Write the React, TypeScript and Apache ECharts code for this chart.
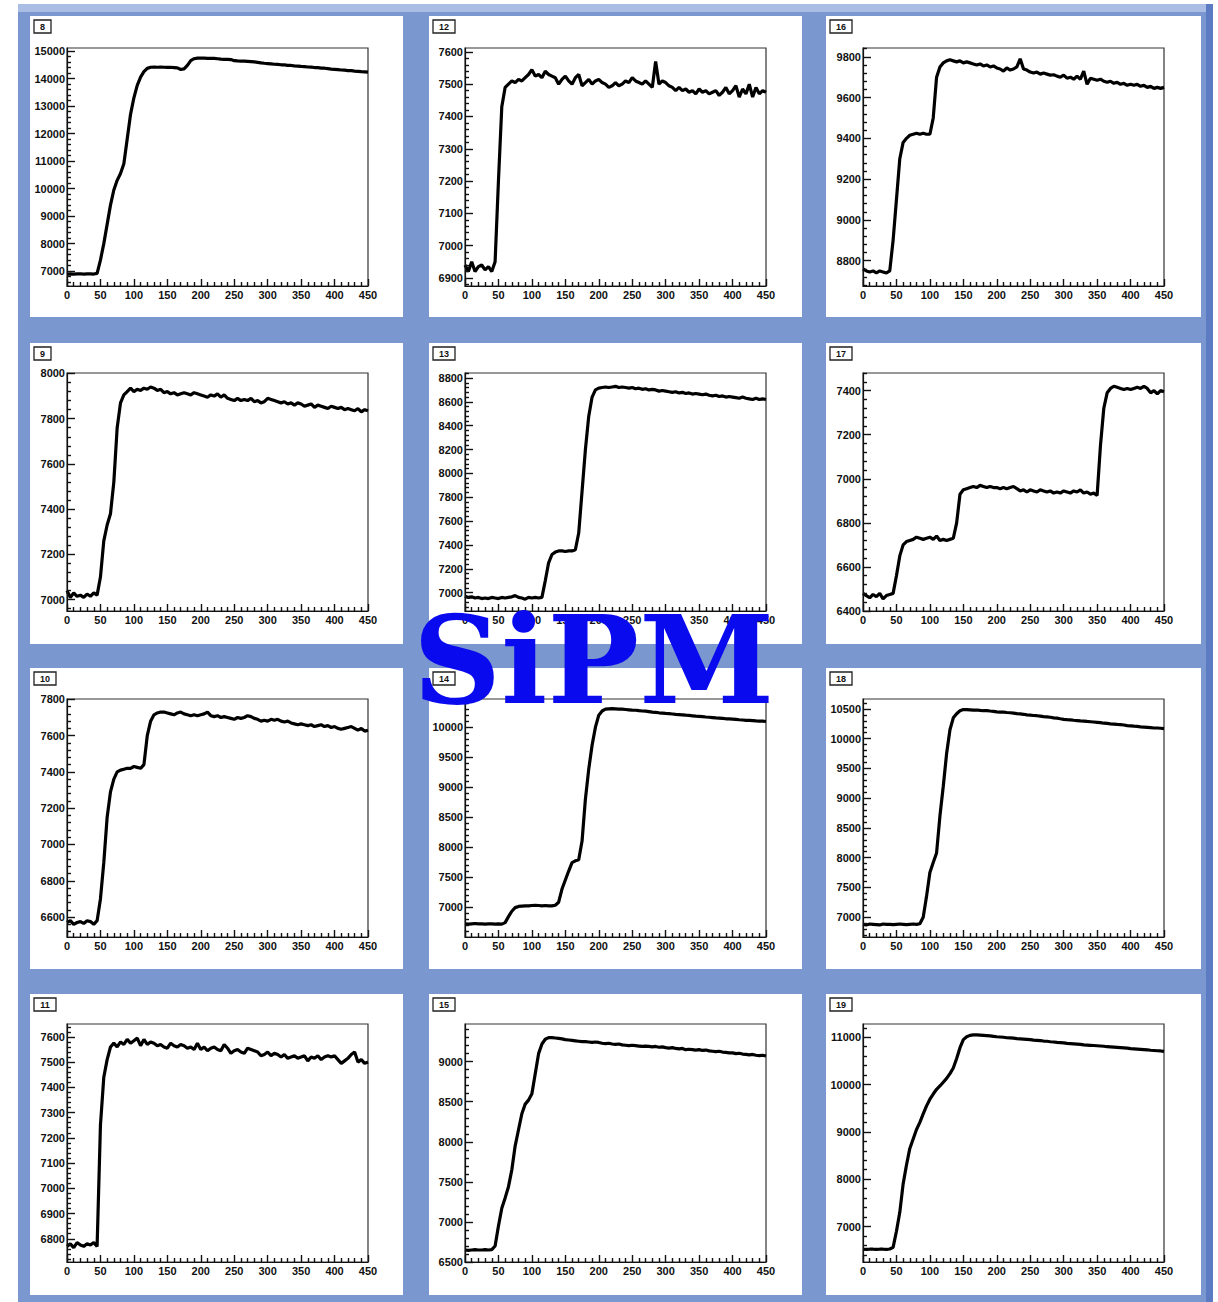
import React, { useEffect, useRef } from "react";
import * as echarts from "echarts";

// ---------- data ----------
// sampling positions (histogram bins read every 5 units)
const X: number[] = Array.from({ length: 91 }, (_, i) => i * 5);
const X_TICKS = [0, 50, 100, 150, 200, 250, 300, 350, 400, 450];

const y8 = [
  6890, 6900, 6895, 6900, 6905, 6895, 6900, 6900, 6895, 6920,
  7400, 8000, 8700, 9400, 9950, 10300, 10550, 10900, 11800, 12700,
  13300, 13750, 14050, 14250, 14370, 14410, 14420, 14410, 14415, 14410,
  14405, 14410, 14400, 14390, 14330, 14350, 14480, 14650, 14720, 14740,
  14745, 14740, 14735, 14730, 14735, 14720, 14705, 14700, 14700, 14690,
  14650, 14640, 14635, 14630, 14625, 14615, 14605, 14590, 14570, 14555,
  14545, 14535, 14520, 14515, 14500, 14495, 14480, 14475, 14460, 14450,
  14440, 14435, 14420, 14415, 14400, 14395, 14380, 14375, 14360, 14345,
  14335, 14325, 14310, 14305, 14290, 14285, 14270, 14260, 14250, 14245,
  14230,
];
const y12 = [
  6940, 6920, 6950, 6920, 6935, 6940, 6925, 6935, 6920, 6950,
  7200, 7430, 7490, 7500, 7510, 7505, 7515, 7510, 7520, 7530,
  7545, 7525, 7530, 7520, 7540, 7530, 7525, 7520, 7500, 7515,
  7525, 7510, 7500, 7520, 7530, 7495, 7505, 7515, 7500, 7510,
  7515, 7505, 7500, 7490, 7495, 7505, 7495, 7500, 7510, 7505,
  7520, 7510, 7505, 7500, 7510, 7500, 7490, 7570, 7500, 7510,
  7505, 7495, 7490, 7480, 7490, 7480, 7485, 7475, 7480, 7470,
  7485, 7475, 7480, 7470, 7475, 7480, 7465, 7475, 7490, 7470,
  7480, 7495, 7460, 7485, 7470, 7500, 7460, 7490, 7470, 7480,
  7475,
];
const y16 = [
  8760, 8750, 8745, 8750, 8740, 8750, 8745, 8740, 8750, 8900,
  9100, 9300, 9380, 9400, 9415, 9420, 9425, 9420, 9425, 9420,
  9420, 9500, 9700, 9750, 9770, 9780, 9785, 9780, 9775, 9780,
  9770, 9775, 9770, 9765, 9760, 9765, 9755, 9760, 9750, 9755,
  9745, 9740, 9730, 9745, 9735, 9740, 9750, 9790, 9740, 9735,
  9725, 9720, 9725, 9715, 9720, 9715, 9710, 9712, 9705, 9700,
  9710, 9695, 9700, 9690, 9705, 9690, 9730, 9665, 9695, 9690,
  9685, 9690, 9680, 9675, 9680, 9670, 9675, 9665, 9670, 9660,
  9665, 9660, 9665, 9655, 9660, 9650, 9655, 9645, 9650, 9645,
  9650,
];
const y9 = [
  7040, 7010, 7030, 7015, 7020, 7010, 7025, 7015, 7030, 7020,
  7100, 7260, 7330, 7380, 7520, 7760, 7870, 7905, 7920, 7935,
  7920, 7930, 7925, 7935, 7930, 7940, 7935, 7925, 7930, 7915,
  7920, 7910, 7915, 7905, 7910, 7915, 7910, 7905, 7915, 7910,
  7905, 7900, 7895, 7905, 7900, 7910, 7895, 7905, 7890, 7885,
  7880, 7890, 7880, 7885, 7880, 7890, 7875, 7880, 7870, 7875,
  7890, 7885, 7880, 7875, 7870, 7875, 7865, 7870, 7860, 7870,
  7865, 7855, 7860, 7865, 7850, 7860, 7855, 7850, 7845, 7855,
  7850, 7845, 7850, 7840, 7845, 7840, 7835, 7845, 7830, 7840,
  7835,
];
const y13 = [
  6970, 6960, 6965, 6955, 6960, 6950, 6955, 6950, 6960, 6955,
  6950, 6960, 6955, 6960, 6965, 6975, 6960, 6955, 6945, 6960,
  6955, 6960, 6955, 6960, 7100, 7250, 7320, 7340, 7350, 7350,
  7345, 7350, 7350, 7360, 7500, 7850, 8200, 8480, 8640, 8700,
  8715, 8720, 8725, 8720, 8725, 8730, 8720, 8725, 8720, 8715,
  8720, 8710, 8715, 8705, 8710, 8700, 8705, 8700, 8690, 8695,
  8690, 8685, 8680, 8685, 8675, 8680, 8670, 8675, 8665, 8670,
  8665, 8660, 8665, 8655, 8650, 8655, 8645, 8650, 8640, 8645,
  8640, 8635, 8630, 8640, 8630, 8625, 8620, 8630, 8620, 8625,
  8620,
];
const y17 = [
  6480, 6470, 6460, 6475, 6465, 6480, 6455, 6470, 6475, 6480,
  6560, 6650, 6700, 6715, 6720, 6725, 6735, 6730, 6725, 6730,
  6735, 6725, 6740, 6720, 6725, 6720, 6725, 6730, 6800, 6930,
  6950, 6955, 6960, 6965, 6960, 6970, 6965, 6960, 6965, 6960,
  6960, 6955, 6960, 6955, 6960, 6965, 6955, 6945, 6950, 6940,
  6950, 6945, 6940, 6950, 6945, 6940, 6945, 6935, 6940, 6935,
  6945, 6940, 6935, 6945, 6940, 6950, 6935, 6940, 6930, 6935,
  6925, 7150, 7320, 7390, 7410, 7420, 7415, 7410, 7405, 7410,
  7405, 7410, 7415, 7410, 7420, 7410, 7390, 7400, 7385, 7400,
  7395,
];
const y10 = [
  6570, 6580, 6560, 6570, 6575, 6565, 6580, 6575, 6560, 6580,
  6700, 6900, 7150, 7290, 7360, 7400, 7410, 7415, 7420, 7420,
  7430, 7425, 7420, 7440, 7600, 7680, 7715, 7725, 7730, 7730,
  7725, 7720, 7715, 7725, 7730, 7720, 7715, 7710, 7715, 7710,
  7715, 7720, 7730, 7710, 7705, 7710, 7700, 7705, 7700, 7695,
  7690, 7700, 7695, 7700, 7710, 7705, 7695, 7690, 7680, 7685,
  7680, 7690, 7685, 7690, 7680, 7675, 7680, 7670, 7665, 7660,
  7665, 7660, 7655, 7660, 7650, 7655, 7660, 7650, 7655, 7645,
  7650, 7640, 7635, 7640, 7645, 7650, 7640, 7630, 7640, 7625,
  7630,
];
const y14 = [
  6720, 6715, 6720, 6725, 6720, 6720, 6715, 6720, 6720, 6715,
  6720, 6715, 6740, 6840, 6930, 6990, 7010, 7015, 7020, 7020,
  7025, 7030, 7025, 7020, 7025, 7020, 7020, 7030, 7080, 7300,
  7450, 7600, 7740, 7770, 7790, 8100, 8800, 9300, 9700, 10000,
  10200, 10270, 10300, 10305, 10310, 10305, 10300, 10300, 10295, 10290,
  10285, 10282, 10275, 10270, 10268, 10260, 10250, 10248, 10240, 10235,
  10230, 10226, 10220, 10214, 10210, 10205, 10200, 10196, 10190, 10184,
  10180, 10176, 10170, 10166, 10160, 10154, 10150, 10146, 10140, 10138,
  10135, 10130, 10124, 10120, 10115, 10114, 10110, 10104, 10100, 10100,
  10095,
];
const y18 = [
  6880, 6870, 6885, 6880, 6875, 6870, 6885, 6880, 6880, 6875,
  6880, 6885, 6880, 6875, 6880, 6885, 6880, 6890, 7000, 7350,
  7750, 7920, 8080, 8700, 9200, 9750, 10150, 10350, 10420, 10470,
  10490, 10490, 10485, 10480, 10482, 10475, 10470, 10472, 10465, 10460,
  10450, 10447, 10445, 10440, 10436, 10430, 10420, 10416, 10410, 10400,
  10395, 10390, 10386, 10380, 10370, 10366, 10360, 10350, 10346, 10335,
  10325, 10320, 10316, 10310, 10305, 10300, 10296, 10290, 10285, 10280,
  10275, 10270, 10260, 10256, 10250, 10245, 10240, 10236, 10230, 10220,
  10215, 10210, 10206, 10200, 10195, 10190, 10185, 10180, 10180, 10175,
  10170,
];
const y11 = [
  6770, 6780, 6765, 6785, 6775, 6770, 6780, 6775, 6785, 6770,
  7250, 7440, 7510, 7560, 7575, 7560, 7580, 7570, 7590, 7575,
  7585, 7595, 7565, 7590, 7570, 7580, 7575, 7565, 7570, 7560,
  7555, 7575, 7565, 7560, 7570, 7565, 7555, 7560, 7550, 7575,
  7550, 7560, 7545, 7555, 7560, 7550, 7545, 7570, 7555, 7535,
  7545, 7550, 7540, 7535, 7555, 7550, 7545, 7540, 7525, 7530,
  7540, 7525, 7535, 7530, 7520, 7530, 7515, 7520, 7525, 7515,
  7520, 7525, 7505, 7520, 7515, 7525, 7510, 7520, 7525, 7520,
  7525, 7510, 7495, 7505, 7515, 7530, 7540, 7500, 7510, 7495,
  7500,
];
const y15 = [
  6650, 6645, 6650, 6655, 6650, 6650, 6655, 6650, 6655, 6700,
  6950, 7170, 7300, 7440, 7650, 7950, 8150, 8350, 8470, 8520,
  8600, 8850, 9100, 9220, 9280, 9300, 9300, 9295, 9290, 9285,
  9275, 9270, 9265, 9260, 9255, 9250, 9250, 9245, 9240, 9245,
  9240, 9230, 9225, 9230, 9220, 9215, 9220, 9210, 9205, 9200,
  9205, 9200, 9195, 9190, 9195, 9190, 9185, 9190, 9180, 9185,
  9175, 9170, 9175, 9165, 9160, 9165, 9150, 9155, 9150, 9145,
  9150, 9140, 9145, 9135, 9130, 9125, 9130, 9120, 9115, 9110,
  9110, 9100, 9105, 9095, 9090, 9085, 9090, 9080, 9075, 9080,
  9070,
];
const y19 = [
  6520, 6515, 6520, 6520, 6515, 6520, 6520, 6515, 6525, 6560,
  6900, 7300, 7900, 8300, 8650, 8850, 9050, 9200, 9380, 9550,
  9690, 9800, 9900, 9970, 10050, 10130, 10230, 10350, 10550, 10780,
  10950, 11010, 11040, 11050, 11050, 11045, 11040, 11035, 11030, 11020,
  11010, 11005, 11000, 10990, 10985, 10980, 10970, 10965, 10960, 10955,
  10950, 10940, 10935, 10930, 10920, 10915, 10905, 10900, 10890, 10885,
  10880, 10870, 10865, 10860, 10855, 10850, 10840, 10835, 10830, 10825,
  10820, 10815, 10810, 10800, 10795, 10790, 10785, 10780, 10775, 10770,
  10760, 10755, 10750, 10745, 10740, 10735, 10725, 10720, 10715, 10710,
  10700,
];

// y-axis ranges and tick labels
const range8 = [6460, 15110];
const ticks8 = [7000, 8000, 9000, 10000, 11000, 12000, 13000, 14000, 15000];
const range12 = [6875, 7612];
const ticks12 = [6900, 7000, 7100, 7200, 7300, 7400, 7500, 7600];
const range16 = [8676, 9843];
const ticks16 = [8800, 9000, 9200, 9400, 9600, 9800];
const range9 = [6950, 8002];
const ticks9 = [7000, 7200, 7400, 7600, 7800, 8000];
const range13 = [6846, 8842];
const ticks13 = [7000, 7200, 7400, 7600, 7800, 8000, 8200, 8400, 8600, 8800];
const range17 = [6400, 7480];
const ticks17 = [6400, 6600, 6800, 7000, 7200, 7400];
const range10 = [6490, 7802];
const ticks10 = [6600, 6800, 7000, 7200, 7400, 7600, 7800];
const range14 = [6500, 10470];
const ticks14 = [7000, 7500, 8000, 8500, 9000, 9500, 10000];
const range18 = [6667, 10667];
const ticks18 = [7000, 7500, 8000, 8500, 9000, 9500, 10000, 10500];
const range11 = [6708, 7651];
const ticks11 = [6800, 6900, 7000, 7100, 7200, 7300, 7400, 7500, 7600];
const range15 = [6500, 9470];
const ticks15 = [6500, 7000, 7500, 8000, 8500, 9000];
const range19 = [6250, 11280];
const ticks19 = [7000, 8000, 9000, 10000, 11000];

type Panel = { id: string; col: number; row: number; y: number[]; range: number[]; ticks: number[] };
const panels: Panel[] = [
  { id: "8", col: 0, row: 0, y: y8, range: range8, ticks: ticks8 },
  { id: "9", col: 0, row: 1, y: y9, range: range9, ticks: ticks9 },
  { id: "10", col: 0, row: 2, y: y10, range: range10, ticks: ticks10 },
  { id: "11", col: 0, row: 3, y: y11, range: range11, ticks: ticks11 },
  { id: "12", col: 1, row: 0, y: y12, range: range12, ticks: ticks12 },
  { id: "13", col: 1, row: 1, y: y13, range: range13, ticks: ticks13 },
  { id: "14", col: 1, row: 2, y: y14, range: range14, ticks: ticks14 },
  { id: "15", col: 1, row: 3, y: y15, range: range15, ticks: ticks15 },
  { id: "16", col: 2, row: 0, y: y16, range: range16, ticks: ticks16 },
  { id: "17", col: 2, row: 1, y: y17, range: range17, ticks: ticks17 },
  { id: "18", col: 2, row: 2, y: y18, range: range18, ticks: ticks18 },
  { id: "19", col: 2, row: 3, y: y19, range: range19, ticks: ticks19 },
];

// ---------- layout ----------
const W = 1218;
const H = 1302;
const ROW_PANEL_TOP = [16, 343, 668, 994];
const PANEL_H = 301;
const COL_PANEL_LEFT = [30, 429, 826];
const PANEL_W = [373, 373, 375];
const ROW_PLOT_TOP = [48, 373, 699, 1024];
const PLOT_H = 238;
const COL_PLOT_LEFT = [67, 465, 863];
const PLOT_W = 301;
const BLUE = "#7b97cf";
const LABEL_FONT = "Liberation Sans";
const INK = "#111";

function minorValues(min: number, max: number, step: number, major: number) {
  const out: number[] = [];
  for (let v = Math.ceil(min / step) * step; v <= max + 1e-9; v += step) {
    if (Math.abs(v / major - Math.round(v / major)) > 1e-6) out.push(v);
  }
  return out;
}

function buildOption() {
  const grid: any[] = [];
  const xAxis: any[] = [];
  const yAxis: any[] = [];
  const series: any[] = [];
  const graphic: any[] = [];

  graphic.push({ type: "rect", z: -30, shape: { x: 18, y: 4, width: 1195, height: 1298 }, style: { fill: BLUE } });
  graphic.push({ type: "rect", z: -29, shape: { x: 18, y: 4, width: 1195, height: 8 }, style: { fill: "#aabde5" } });
  graphic.push({ type: "rect", z: -29, shape: { x: 1206, y: 4, width: 7, height: 1298 }, style: { fill: "#5b7bc3" } });

  const xMinor = minorValues(0, 450, 10, 50);

  panels.forEach((p, k) => {
    const pl = COL_PANEL_LEFT[p.col];
    const pt = ROW_PANEL_TOP[p.row];
    graphic.push({ type: "rect", z: -20, shape: { x: pl, y: pt, width: PANEL_W[p.col], height: PANEL_H }, style: { fill: "#ffffff" } });
    const bw = p.id.length > 1 ? 22 : 17;
    graphic.push({
      type: "rect", z: 5,
      shape: { x: pl + 4, y: pt + 4, width: bw, height: 13 },
      style: { fill: "#fff", stroke: "#222", lineWidth: 1.3 },
    });
    graphic.push({
      type: "text", z: 6,
      style: { text: p.id, x: pl + 4 + bw / 2, y: pt + 11, align: "center", verticalAlign: "middle", font: `bold 9px "${LABEL_FONT}"`, fill: INK },
    });

    grid.push({
      left: COL_PLOT_LEFT[p.col], top: ROW_PLOT_TOP[p.row], width: PLOT_W, height: PLOT_H,
      show: true, borderColor: "#333", borderWidth: 1.2, backgroundColor: "transparent",
    });

    const majorStep = p.ticks[1] - p.ticks[0];
    const yMinor = minorValues(p.range[0], p.range[1], majorStep / 5, majorStep);

    xAxis.push({
      type: "value", gridIndex: k, position: "bottom", min: 0, max: 450, z: 4,
      axisLine: { show: true, onZero: false, lineStyle: { color: INK, width: 1.2 } },
      axisTick: { show: true, inside: true, length: 7, customValues: X_TICKS, lineStyle: { color: INK, width: 1.4 } },
      axisLabel: { customValues: X_TICKS, fontSize: 11, fontWeight: "bold", fontFamily: LABEL_FONT, color: INK, margin: 3, formatter: (v: number) => String(v) },
      splitLine: { show: false },
    });
    xAxis.push({
      type: "value", gridIndex: k, position: "bottom", min: 0, max: 450, z: 4,
      axisLine: { show: false },
      axisTick: { show: true, inside: true, length: 4, customValues: xMinor, lineStyle: { color: INK, width: 1.4 } },
      axisLabel: { show: false },
      splitLine: { show: false },
    });
    yAxis.push({
      type: "value", gridIndex: k, position: "left", min: p.range[0], max: p.range[1], z: 4,
      axisLine: { show: true, onZero: false, lineStyle: { color: INK, width: 1.2 } },
      axisTick: { show: true, inside: true, length: 8, customValues: p.ticks, lineStyle: { color: INK, width: 1.4 } },
      axisLabel: { customValues: p.ticks, fontSize: 11, fontWeight: "bold", fontFamily: LABEL_FONT, color: INK, margin: 2, formatter: (v: number) => String(v) },
      splitLine: { show: false },
    });
    yAxis.push({
      type: "value", gridIndex: k, position: "left", min: p.range[0], max: p.range[1], z: 4,
      axisLine: { show: false },
      axisTick: { show: true, inside: true, length: 4, customValues: yMinor, lineStyle: { color: INK, width: 1.4 } },
      axisLabel: { show: false },
      splitLine: { show: false },
    });

    series.push({
      type: "line",
      xAxisIndex: 2 * k,
      yAxisIndex: 2 * k,
      data: X.map((x, i) => [x, p.y[i]]),
      showSymbol: false,
      symbol: "none",
      clip: true,
      lineStyle: { color: "#000", width: 3.2 },
      z: 3,
    });
  });

  graphic.push({
    type: "text", z: 100,
    style: {
      text: "SiPM", x: 413, y: 660, align: "left", verticalAlign: "middle",
      font: 'bold 122px "DejaVu Serif"', fill: "#0a0aee",
    },
  });

  return {
    animation: false,
    backgroundColor: "#ffffff",
    grid, xAxis, yAxis, series, graphic,
  };
}

export default function App() {
  const ref = useRef<HTMLDivElement>(null);
  useEffect(() => {
    document.body.style.margin = "0";
    if (!ref.current) return;
    const chart = echarts.init(ref.current, undefined, { renderer: "svg", width: W, height: H });
    chart.setOption(buildOption() as any);
    return () => chart.dispose();
  }, []);
  return <div ref={ref} style={{ position: "absolute", left: 0, top: 0, width: W, height: H }} />;
}
